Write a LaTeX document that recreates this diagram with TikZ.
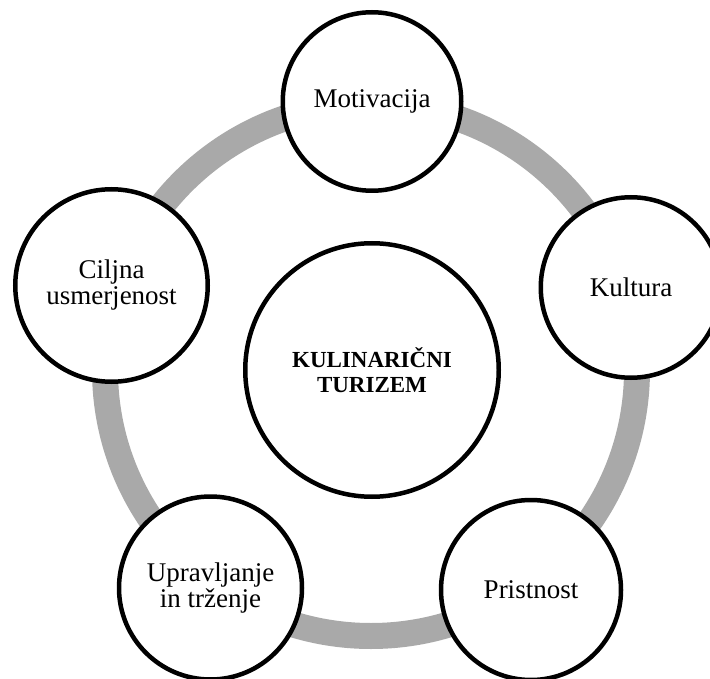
\documentclass[tikz,border=0pt]{standalone}
\usepackage{fontspec}
\setmainfont{Liberation Serif}
\definecolor{ringgray}{RGB}{169,169,169}
\begin{document}
\begin{tikzpicture}[x=1pt,y=-1pt,
  bubble/.style={circle, draw=black, line width=4.5pt, fill=white,
    inner sep=0pt, align=center, text=black,
    font=\fontsize{27}{26}\selectfont},
  hubtext/.style={font=\bfseries\fontsize{23}{25}\selectfont},
  ring/.style={draw=ringgray, line width=26pt}]
\useasboundingbox (0,0) rectangle (710,679);

% grey cycle behind the bubbles
\coordinate (mid) at (371,370);
\draw[ring] (mid) circle[radius=266pt];

% central bubble
\node[bubble, hubtext, minimum size=253.5pt] (hub) at (372,370)
  {KULINARIČNI\\TURIZEM};

% bubbles on the cycle
\node[bubble, minimum size=178.5pt] (mot) at (372,101.5) {Motivacija};
\node[bubble, minimum size=180.5pt] (kul) at (631,287.5) {Kultura};
\node[bubble, minimum size=180pt]   (pri) at (531,590)   {Pristnost};
\node[bubble, minimum size=183pt]   (upr) at (210.5,588) {Upravljanje\\in trženje};
\node[bubble, minimum size=192.5pt] (cil) at (111.5,285.5) {Ciljna\\usmerjenost};
\end{tikzpicture}
\end{document}
